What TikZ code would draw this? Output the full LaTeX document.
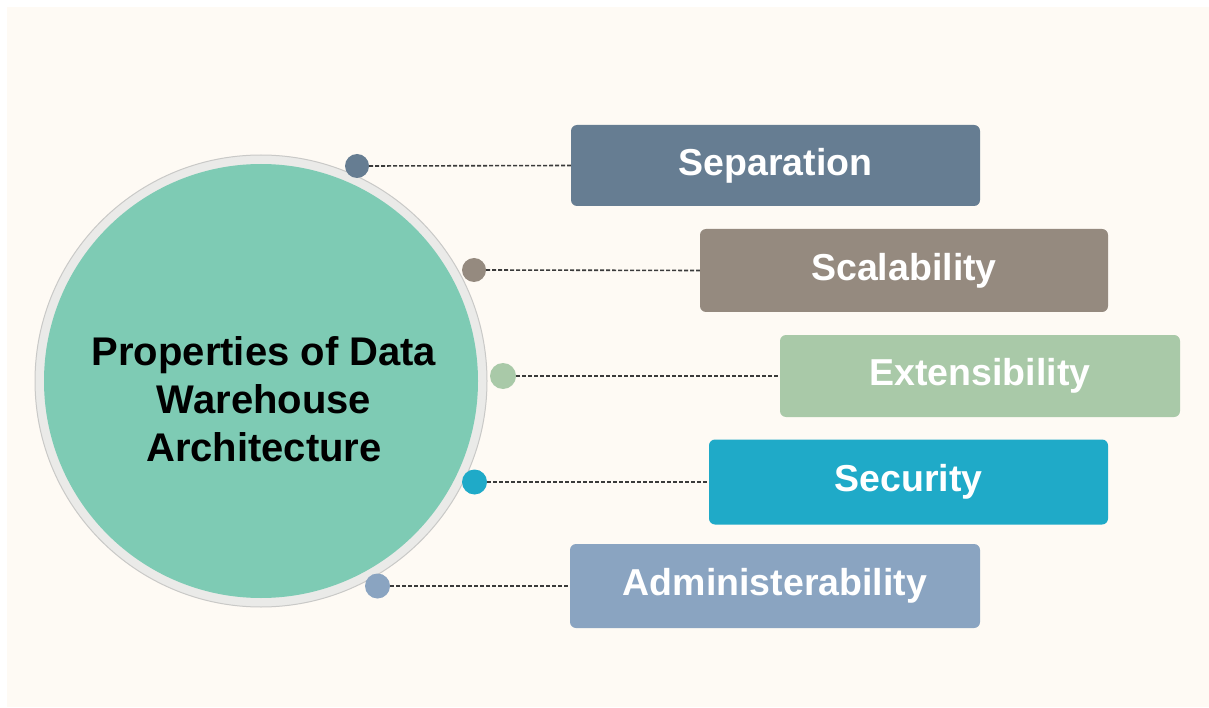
\documentclass[tikz,border=0pt]{standalone}
\usepackage{fontspec}
\setmainfont{Liberation Sans}
\begin{document}
\begin{tikzpicture}[x=1pt,y=-1pt,
  dot/.style={circle, inner sep=0pt, minimum size=24pt},
  propbox/.style={rounded corners=6pt, inner sep=0pt, text=white,
    font=\fontsize{37.5}{42}\selectfont\bfseries},
  link/.style={draw=linkgray, line width=1.6pt, dash pattern=on 4pt off 2pt}]
\definecolor{cream}{HTML}{FEFAF4}
\definecolor{ringgray}{HTML}{EAEAE8}
\definecolor{ringedge}{HTML}{C9C9C7}
\definecolor{tealcore}{HTML}{7ECBB4}
\definecolor{linkgray}{HTML}{3A3A3A}
\definecolor{csep}{HTML}{667D92}
\definecolor{cscal}{HTML}{958A7F}
\definecolor{cext}{HTML}{A9C9A8}
\definecolor{csec}{HTML}{1FAAC8}
\definecolor{cadm}{HTML}{8AA4C1}
\useasboundingbox (0,0) rectangle (1209,708);
\fill[white] (0,0) rectangle (1209,708);
\fill[cream] (7,7) rectangle (1209,707);
% central circle
\node[circle, fill=ringgray, draw=ringedge, line width=1pt, minimum size=452pt, inner sep=0pt] (ring) at (261,381) {};
\node[circle, fill=tealcore, minimum size=434pt, inner sep=0pt] (core) at (ring.center) {};
\node[align=center, font=\fontsize{40}{48}\selectfont\bfseries, text=black] (title) at (264,399) {Properties of Data\\Warehouse\\Architecture};
% boxes
\node[propbox, fill=csep, minimum width=409pt, minimum height=81pt] (b1) at (775.5,165.5) {\raisebox{-2pt}{Separation}};
\node[propbox, fill=cscal, minimum width=408pt, minimum height=83pt] (b2) at (904,270.5) {\raisebox{-2pt}{Scalability}};
\node[propbox, fill=cext, minimum width=400pt, minimum height=82pt] (b3) at (980,376) {\raisebox{-2pt}{Extensibility}};
\node[propbox, fill=csec, minimum width=399pt, minimum height=85pt] (b4) at (908.5,482) {\raisebox{-2pt}{Security}};
\node[propbox, fill=cadm, minimum width=410pt, minimum height=84pt] (b5) at (775,586) {\raisebox{-2pt}{Administerability}};
% dots
\node[dot, fill=csep] (d1) at (357,166) {};
\node[dot, fill=cscal] (d2) at (474,270) {};
\node[dot, fill=cext, minimum size=26pt] (d3) at (503,376) {};
\node[dot, fill=csec, minimum size=25pt] (d4) at (474.5,482) {};
\node[dot, fill=cadm, minimum size=25pt] (d5) at (377.5,586) {};
% links
\draw[link] (d1.east) -- (b1.west);
\draw[link] (d2.east) -- (b2.west);
\draw[link] (d3.east) -- (b3.west);
\draw[link] (d4.east) -- (b4.west);
\draw[link] (d5.east) -- (b5.west);
\end{tikzpicture}
\end{document}
